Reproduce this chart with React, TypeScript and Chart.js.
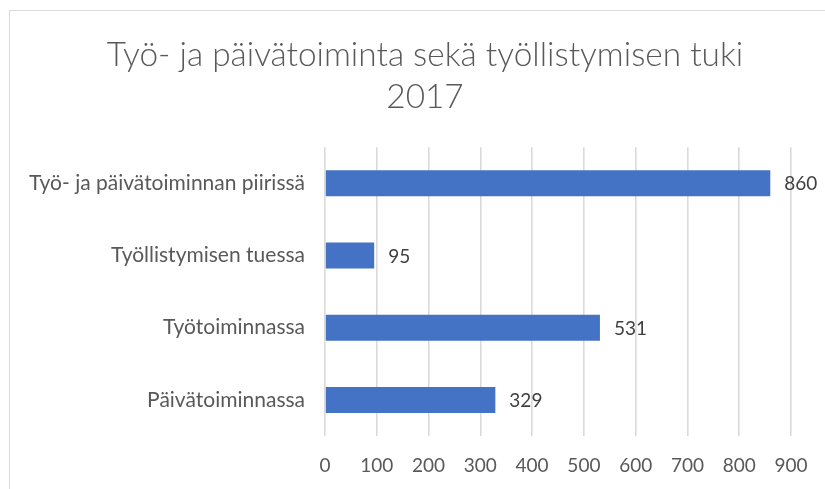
import React, { useEffect, useRef } from "react";
import { Chart, registerables } from "chart.js";

Chart.register(...registerables);

const titleLines = ["Työ- ja päivätoiminta sekä työllistymisen tuki", "2017"];
const categories = [
  "Työ- ja päivätoiminnan piirissä",
  "Työllistymisen tuessa",
  "Työtoiminnassa",
  "Päivätoiminnassa",
];
const values = [860, 95, 531, 329];
const xMax = 900;
const xStep = 100;

const FONT = "Lato, 'Open Sans', sans-serif";

const valueLabels = {
  id: "valueLabels",
  afterDatasetsDraw(chart: any) {
    const ctx = chart.ctx;
    ctx.save();
    ctx.font = `19px ${FONT}`;
    ctx.fillStyle = "#404040";
    ctx.textAlign = "left";
    ctx.textBaseline = "middle";
    chart.data.datasets.forEach((ds: any, di: number) => {
      const meta = chart.getDatasetMeta(di);
      meta.data.forEach((bar: any, i: number) => {
        ctx.fillText(String(ds.data[i]), bar.x + 14, bar.y + 1);
      });
    });
    ctx.restore();
  },
};

export default function App() {
  const ref = useRef<HTMLCanvasElement>(null);
  useEffect(() => {
    if (!ref.current) return;
    const chart = new Chart(ref.current, {
      type: "bar",
      data: {
        labels: categories,
        datasets: [
          {
            data: values,
            backgroundColor: "#4472C4",
            borderWidth: 0,
            categoryPercentage: 1,
            barPercentage: 0.36,
          },
        ],
      },
      options: {
        indexAxis: "y",
        animation: false,
        responsive: false,
        maintainAspectRatio: false,
        layout: { padding: 0 },
        plugins: {
          legend: { display: false },
          tooltip: { enabled: false },
          title: {
            display: true,
            text: titleLines,
            color: "#595959",
            font: { family: FONT, size: 33.4, weight: 300, lineHeight: 1.26 },
            padding: { top: 23, bottom: 29 },
          },
        },
        scales: {
          x: {
            min: 0,
            max: xMax,
            ticks: {
              stepSize: xStep,
              color: "#595959",
              font: { family: FONT, size: 19 },
              padding: 18,
            },
            grid: { color: "#dadada", lineWidth: 1.6, drawTicks: false },
            border: { display: false },
            afterFit: (s: any) => {
              s.height = 53;
            },
          },
          y: {
            ticks: {
              color: "#595959",
              font: { family: FONT, size: 21 },
              padding: 12,
            },
            grid: { display: false },
            border: { display: false },
            afterFit: (s: any) => {
              s.width = 315;
            },
          },
          yRight: {
            position: "right",
            display: true,
            ticks: { display: false },
            grid: { display: false },
            border: { display: false },
            afterFit: (s: any) => {
              s.width = 49;
            },
          },
        },
      },
      plugins: [valueLabels],
    });
    return () => chart.destroy();
  }, []);

  return (
    <div
      style={{
        position: "fixed",
        left: 0,
        top: 0,
        width: 825,
        height: 489,
        overflow: "hidden",
        background: "#fff",
      }}
    >
      <div
        style={{
          position: "absolute",
          left: 9,
          top: 10,
          width: 900,
          height: 600,
          border: "1px solid #d9d9d9",
        }}
      />
      <canvas
        ref={ref}
        width={830}
        height={478}
        style={{ position: "absolute", left: 10, top: 11, width: 830, height: 478 }}
      />
    </div>
  );
}
